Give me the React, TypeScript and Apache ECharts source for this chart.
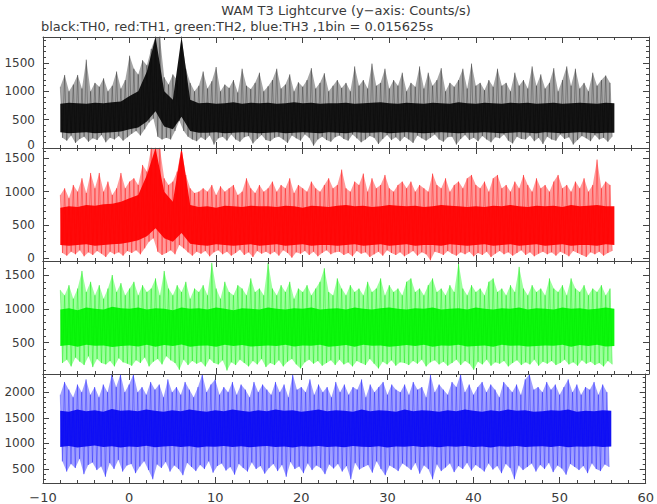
import React, { useEffect, useRef } from 'react';
import * as echarts from 'echarts';

// ---------- texts ----------
const TITLE = 'WAM T3 Lightcurve (y\u2212axis: Counts/s)';
const SUBTITLE = 'black:TH0, red:TH1, green:TH2, blue:TH3 ,1bin = 0.015625s';

// ---------- axes ----------
const X_MIN = -10;
const X_MAX = 60;
const X_INTERVAL = 10;
const Y_RANGES: [number, number][] = [
  [0, 1960],
  [-40, 1654],
  [38, 1707],
  [228, 2355],
];

// ---------- envelope samples ----------
// hi[k] at t = -8 + 0.5k, lo[k] at t = -7.75 + 0.5k
const ENV_START = -8;
const ENV_STEP = 0.5;
// core (dense part of the trace), one value per second from t = -8 to 56
const CORE_START = -8;
const CORE_STEP = 1;

const hiBlack = [
  1080, 1290, 1000, 1120, 1290, 1050, 1560, 1000, 1150, 1080, 1230, 1000, 1100, 1350, 1050, 1200,
  1630, 1400, 1300, 1550, 1460, 1750, 1980, 1980, 1250, 1120, 1300, 1200, 1980, 1400, 1150, 1000,
  1100, 1350, 1050, 1180, 1430, 1000, 1120, 1060, 1200, 980, 1400, 1100, 1040, 1150, 1330, 1000,
  1090, 1200, 1400, 1050, 1120, 1300, 1000, 1160, 1080, 1200, 1410, 1050, 1150, 1320, 1000, 1100,
  1200, 1060, 1150, 1000, 1440, 1100, 1200, 1050, 1490, 1100, 1150, 1400, 1050, 1200, 1100, 1330,
  1000, 1150, 1080, 1440, 1050, 1330, 1100, 1200, 1410, 1000, 1150, 1080, 1200, 1400, 1050, 1490,
  1100, 1150, 1020, 1200, 1080, 1400, 1100, 1150, 1000, 1330, 1100, 1200, 1050, 1440, 1100, 1300,
  1050, 1150, 1410, 1000, 1200, 1440, 1100, 1400, 1050, 1150, 1000, 1330, 1100, 1200, 1280, 1150,
];
const loBlack = [
  180, 130, 220, 90, 160, 200, 110, 170, 140, 230, 100, 180, 150, 210, 130, 190,
  250, 300, 220, 330, 450, 520, 200, 150, 180, 150, 300, 480, 300, 200, 150, 120,
  190, 140, 220, 60, 170, 200, 130, 240, 150, 110, 190, 210, 80, 160, 230, 140,
  120, 180, 200, 150, 90, 220, 170, 130, 240, 180, 40, 150, 200, 140, 110, 190,
  220, 160, 130, 240, 170, 100, 150, 210, 180, 70, 160, 230, 140, 190, 120, 200,
  150, 90, 220, 170, 130, 180, 240, 150, 110, 190, 200, 60, 160, 230, 140, 180,
  120, 210, 150, 100, 190, 170, 240, 130, 80, 200, 160, 150, 220, 120, 180, 70,
  200, 150, 130, 240, 160, 190, 60, 140, 210, 170, 120, 230, 150, 180, 110, 200,
];
const coreLoBlack = [
  280, 260, 270, 280, 260, 270, 280, 290,
  330, 360, 470, 650, 380, 330, 550, 300,
  270, 270, 280, 260, 270, 280, 270, 260,
  270, 280, 260, 270, 280, 270, 260, 280,
  270, 260, 280, 270, 270, 280, 260, 270,
  280, 270, 260, 270, 280, 270, 260, 270,
  270, 280, 270, 260, 270, 280, 270, 260,
  280, 270, 260, 270, 280, 270, 260, 270,
  270,
];
const coreHiBlack = [
  780, 800, 790, 780, 800, 790, 810, 820,
  920, 1000, 1350, 1960, 1000, 850, 1960, 850,
  790, 800, 780, 790, 810, 780, 800, 790,
  800, 780, 790, 810, 790, 800, 780, 790,
  790, 800, 780, 790, 800, 810, 790, 780,
  800, 790, 780, 800, 790, 780, 810, 790,
  780, 800, 790, 780, 800, 790, 800, 780,
  790, 800, 780, 790, 800, 790, 780, 800,
  790,
];

const hiRed = [
  950, 1050, 900, 1100, 1000, 1200, 980, 1280, 1050, 1280, 1000, 1150, 950, 1050, 1280, 1050,
  1150, 1200, 1100, 1400, 1300, 1660, 1660, 1660, 1200, 1100, 1150, 1300, 1660, 1250, 1050, 980,
  1000, 1050, 1000, 1100, 950, 1080, 1000, 1050, 1100, 950, 1000, 1200, 1050, 980, 1100, 1000,
  1050, 1150, 1000, 1100, 1050, 1200, 980, 1100, 1050, 1000, 1150, 1050, 1000, 1100, 1200, 1050,
  1100, 1330, 1050, 1000, 1150, 1100, 1270, 1000, 1200, 1050, 1100, 1250, 1050, 1000, 1100, 1150,
  1050, 1150, 1000, 1100, 1050, 1000, 1270, 1100, 1050, 1200, 1000, 1100, 1150, 1050, 1200, 1250,
  1100, 1050, 1150, 1000, 1200, 1250, 1050, 1100, 1000, 1150, 1050, 1250, 1100, 1000, 1200, 1050,
  1100, 1000, 1150, 1250, 1050, 1100, 1000, 1150, 1050, 1200, 1000, 1100, 1480, 1050, 1150, 1100,
];
const loRed = [
  80, 40, 100, 60, 120, 30, 90, 50, 110, 70, 20, 100, 60, 90, 40, 110,
  80, 120, 60, 150, 250, 300, 100, 50, 80, 120, 60, 200, 150, 90, 40, 100,
  70, 110, 30, 90, 120, 60, 100, 40, 80, 130, 50, 90, 20, 110, 70, 100,
  60, 100, 40, 120, 80, 10, 90, 70, 110, 50, 100, 30, 80, 120, 60, 90,
  100, 50, 80, 30, 110, 70, 90, 20, 60, 100, 40, 120, 80, 50, 90, 30,
  70, 110, 40, 90, 60, -30, 100, 80, 50, 110, 70, 40, 90, 60, 100, 30,
  80, 50, 100, 20, 70, 110, 60, 90, 40, 80, 120, 50, 90, 30, 70, 100,
  60, 90, 40, 100, 70, 30, 110, 80, 50, 20, 90, 60, 100, 40, 80, 110,
];
const coreLoRed = [
  200, 190, 200, 210, 190, 200, 210, 220,
  240, 270, 330, 450, 300, 250, 380, 220,
  200, 190, 210, 200, 190, 200, 210, 190,
  200, 210, 190, 200, 210, 190, 200, 200,
  190, 200, 210, 190, 200, 210, 190, 200,
  210, 190, 200, 200, 190, 210, 200, 190,
  200, 210, 190, 200, 210, 190, 200, 210,
  190, 200, 210, 190, 200, 200, 190, 210,
  200,
];
const coreHiRed = [
  760, 780, 770, 800, 790, 810, 820, 850,
  900, 950, 1250, 1660, 1000, 850, 1660, 800,
  770, 780, 760, 790, 780, 770, 790, 780,
  780, 770, 790, 780, 760, 790, 780, 770,
  790, 800, 780, 790, 770, 780, 800, 790,
  780, 790, 770, 780, 800, 790, 780, 770,
  780, 770, 790, 780, 800, 780, 770, 790,
  780, 790, 770, 800, 780, 790, 800, 780,
  780,
];

const hiGreen = [
  1280, 1200, 1350, 1150, 1300, 1560, 1250, 1400, 1200, 1350, 1150, 1300, 1500, 1250, 1380, 1200,
  1300, 1400, 1200, 1350, 1250, 1300, 1450, 1200, 1560, 1300, 1200, 1350, 1250, 1400, 1150, 1300,
  1250, 1350, 1200, 1680, 1300, 1150, 1400, 1250, 1200, 1350, 1300, 1200, 1450, 1250, 1300, 1200,
  1680, 1300, 1200, 1350, 1250, 1400, 1150, 1300, 1250, 1350, 1200, 1300, 1400, 1600, 1250, 1200,
  1450, 1300, 1200, 1350, 1250, 1300, 1200, 1400, 1250, 1300, 1450, 1200, 1350, 1250, 1300, 1200,
  1400, 1450, 1250, 1300, 1200, 1350, 1450, 1250, 1300, 1200, 1350, 1250, 1680, 1300, 1200, 1350,
  1250, 1300, 1200, 1400, 1450, 1250, 1300, 1200, 1350, 1250, 1620, 1300, 1200, 1350, 1250, 1300,
  1200, 1450, 1300, 1250, 1350, 1200, 1450, 1300, 1250, 1350, 1200, 1300, 1250, 1350, 1200, 1300,
];
const loGreen = [
  200, 250, 150, 280, 220, 170, 300, 140, 260, 200, 180, 230, 150, 270, 210, 190,
  160, 240, 200, 280, 150, 220, 260, 180, 300, 240, 200, 100, 250, 170, 230, 190,
  220, 150, 260, 200, 180, 240, 90, 210, 170, 250, 200, 150, 230, 180, 260, 140,
  200, 170, 240, 150, 220, 260, 180, 120, 210, 250, 190, 230, 160, 200, 240, 170,
  250, 180, 210, 150, 230, 200, 170, 260, 190, 120, 220, 180, 240, 160, 210, 200,
  170, 230, 190, 250, 150, 210, 240, 180, 220, 160, 200, 250, 170, 230, 190, 100,
  220, 180, 250, 160, 210, 190, 230, 150, 200, 240, 170, 210, 180, 250, 160, 220,
  190, 230, 170, 200, 250, 180, 210, 160, 240, 190, 220, 170, 200, 150, 230, 180,
];
const coreLoGreen = [
  450, 465, 440, 470, 455, 460, 435, 450,
  460, 445, 470, 440, 465, 450, 475, 440,
  455, 460, 440, 470, 450, 465, 445, 450,
  460, 450, 470, 445, 460, 455, 470, 440,
  450, 465, 440, 470, 455, 460, 440, 450,
  465, 450, 470, 440, 460, 455, 470, 445,
  450, 460, 440, 470, 455, 460, 445, 450,
  460, 455, 470, 440, 465, 450, 470, 445,
  450,
];
const coreHiGreen = [
  990, 1010, 980, 1020, 1000, 990, 1030, 1010,
  1000, 1020, 990, 1010, 1000, 980, 1020, 1000,
  1010, 990, 1020, 1000, 980, 1010, 1000, 990,
  1020, 1000, 990, 1010, 1000, 1020, 990, 1000,
  1010, 990, 1020, 1000, 990, 1010, 1020, 1000,
  990, 1010, 1000, 1020, 990, 1000, 1010, 990,
  1020, 1000, 990, 1010, 1000, 1020, 990, 1010,
  1000, 990, 1020, 1000, 1010, 990, 1000, 1020,
  1000,
];

const hiBlue = [
  1950, 2200, 2050, 1900, 2150, 2000, 2250, 1950, 2100, 1900, 2150, 2000, 2350, 2100, 2350, 2000,
  2150, 2350, 2000, 2100, 1950, 2200, 2050, 2150, 1900, 2250, 2000, 2100, 1950, 2200, 2050, 1900,
  2100, 2350, 2000, 2150, 2250, 1950, 2100, 2000, 2200, 1950, 2150, 2050, 1900, 2200, 2000, 2150,
  2050, 1950, 2200, 2000, 2150, 1900, 2350, 2050, 2100, 2000, 2250, 1950, 2150, 2000, 2100, 1900,
  2200, 2000, 2150, 1950, 2100, 2050, 2250, 1900, 2150, 2000, 2100, 2200, 1950, 2150, 2050, 2000,
  2150, 1950, 2200, 2050, 2100, 1900, 2350, 2000, 2150, 2050, 1950, 2200, 2100, 2350, 2000, 2150,
  1950, 2100, 2200, 2000, 2150, 2050, 1900, 2200, 2100, 2000, 2150, 1950, 2250, 2350, 2050, 2100,
  2000, 2200, 2050, 2150, 1950, 2100, 2250, 2000, 2150, 1950, 2100, 2050, 2200, 1950, 2150, 2000,
];
const loBlue = [
  650, 450, 600, 520, 700, 400, 580, 630, 480, 550, 350, 620, 500, 680, 450, 570,
  600, 420, 550, 650, 480, 300, 590, 520, 640, 450, 570, 500, 380, 620, 540, 460,
  580, 500, 650, 430, 560, 610, 470, 540, 390, 600, 520, 450, 630, 500, 560, 410,
  520, 600, 460, 580, 350, 640, 500, 550, 420, 610, 480, 570, 520, 400, 590, 510,
  600, 450, 560, 300, 620, 490, 540, 580, 430, 650, 500, 380, 570, 520, 460, 610,
  550, 480, 620, 410, 570, 500, 300, 590, 460, 530, 610, 440, 560, 500, 620, 470,
  580, 520, 450, 610, 490, 560, 420, 600, 520, 300, 570, 480, 540, 610, 450, 580,
  500, 620, 440, 570, 510, 390, 600, 540, 480, 560, 420, 610, 500, 460, 590, 540,
];
const coreLoBlue = [
  930, 950, 920, 940, 960, 930, 945, 920,
  940, 930, 955, 925, 940, 950, 930, 945,
  920, 940, 935, 950, 930, 945, 925, 940,
  950, 930, 940, 920, 945, 935, 950, 930,
  940, 925, 950, 935, 930, 945, 920, 940,
  935, 950, 930, 940, 925, 945, 935, 950,
  930, 940, 920, 945, 935, 950, 930, 940,
  945, 930, 950, 925, 940, 935, 945, 930,
  940,
];
const coreHiBlue = [
  1640, 1620, 1660, 1630, 1650, 1620, 1670, 1640,
  1650, 1630, 1660, 1640, 1620, 1650, 1630, 1660,
  1640, 1620, 1650, 1630, 1660, 1640, 1620, 1650,
  1630, 1660, 1640, 1650, 1620, 1640, 1660, 1630,
  1650, 1640, 1620, 1660, 1630, 1650, 1640, 1620,
  1660, 1630, 1650, 1640, 1620, 1650, 1630, 1660,
  1640, 1620, 1650, 1630, 1660, 1640, 1650, 1620,
  1630, 1650, 1640, 1660, 1620, 1640, 1630, 1650,
  1640,
];

type Panel = {
  hi: number[]; lo: number[]; coreLo: number[]; coreHi: number[];
  core: string; light: string; line: string;
};
const PANELS: Panel[] = [
  { hi: hiBlack, lo: loBlack, coreLo: coreLoBlack, coreHi: coreHiBlack,
    core: '#141414', light: '#a6a6a6', line: 'rgba(0,0,0,0.35)' },
  { hi: hiRed, lo: loRed, coreLo: coreLoRed, coreHi: coreHiRed,
    core: '#ff0a0a', light: '#ff9a9a', line: 'rgba(255,0,0,0.45)' },
  { hi: hiGreen, lo: loGreen, coreLo: coreLoGreen, coreHi: coreHiGreen,
    core: '#0cf80c', light: '#9cff9c', line: 'rgba(0,230,0,0.45)' },
  { hi: hiBlue, lo: loBlue, coreLo: coreLoBlue, coreHi: coreHiBlue,
    core: '#1414f2', light: '#a0a0ff', line: 'rgba(0,0,255,0.4)' },
];

// panel layout (pixels)
const GRID_LEFT = 43;
const GRID_WIDTH = 606;
const GRID_TOPS = [37, 148, 261, 374];
const GRID_HEIGHTS = [111, 113, 113, 112];

function envHiPts(hi: number[]): number[][] {
  return hi.map((v, k) => [ENV_START + k * ENV_STEP, v]);
}
function envLoPts(lo: number[]): number[][] {
  return lo.map((v, k) => [ENV_START + k * ENV_STEP + ENV_STEP / 2, v]);
}
function corePts(v: number[]): number[][] {
  return v.map((y, k) => [CORE_START + k * CORE_STEP, y]);
}
function zigzag(hi: number[], lo: number[]): number[][] {
  const pts: number[][] = [];
  for (let k = 0; k < hi.length; k++) {
    pts.push([ENV_START + k * ENV_STEP, hi[k]]);
    if (k < lo.length) pts.push([ENV_START + k * ENV_STEP + ENV_STEP / 2, lo[k]]);
  }
  return pts;
}

const LINE_COL = '#444';
const FONT = 'DejaVu Sans';
const TEXT_COL = '#3a3a3a';

function bandSeries(i: number, upper: number[][], lower: number[][], fill: string, z: number) {
  return {
    type: 'custom',
    xAxisIndex: 2 * i,
    yAxisIndex: 2 * i,
    data: upper,
    encode: { x: 0, y: 1 },
    silent: true,
    z,
    renderItem: (params: any, api: any) => {
      if (params.dataIndex !== 0) return null;
      const pts: number[][] = [];
      upper.forEach((p) => pts.push(api.coord(p)));
      for (let j = lower.length - 1; j >= 0; j--) pts.push(api.coord(lower[j]));
      const cs = params.coordSys;
      const clipped = echarts.graphic.clipPointsByRect(pts, {
        x: cs.x, y: cs.y, width: cs.width, height: cs.height,
      } as any);
      return {
        type: 'polygon',
        shape: { points: clipped },
        style: { fill, stroke: null },
        silent: true,
      };
    },
  };
}

export default function App() {
  const ref = useRef<HTMLDivElement>(null);
  useEffect(() => {
    if (!ref.current) return;
    const chart = echarts.init(ref.current, undefined, { renderer: 'svg' });

    const grid = GRID_TOPS.map((top, i) => ({
      left: GRID_LEFT, width: GRID_WIDTH, top, height: GRID_HEIGHTS[i], containLabel: false,
    }));

    const commonAxis = {
      axisLine: { show: true, onZero: false, lineStyle: { color: LINE_COL, width: 1 } },
      axisTick: { show: true, inside: true, length: 6, lineStyle: { color: LINE_COL, width: 1 } },
      minorTick: { show: true, splitNumber: 5, length: 3, lineStyle: { color: LINE_COL, width: 1 } },
      splitLine: { show: false },
      minorSplitLine: { show: false },
      z: 10,
    };

    const xAxis: any[] = [];
    const yAxis: any[] = [];
    PANELS.forEach((_, i) => {
      xAxis.push({
        ...commonAxis,
        type: 'value', gridIndex: i, position: 'bottom',
        min: X_MIN, max: X_MAX, interval: X_INTERVAL,
        axisLabel: {
          show: i === PANELS.length - 1, margin: 8, color: TEXT_COL,
          fontFamily: FONT, fontSize: 13,
          formatter: (v: number) => String(v).replace('-', '\u2212'),
        },
      });
      xAxis.push({
        ...commonAxis,
        type: 'value', gridIndex: i, position: 'top',
        min: X_MIN, max: X_MAX, interval: X_INTERVAL,
        axisLabel: { show: false },
      });
      const [ymin, ymax] = Y_RANGES[i];
      const isTop = i === 0;
      yAxis.push({
        ...commonAxis,
        type: 'value', gridIndex: i, position: 'left',
        min: ymin, max: ymax, splitNumber: 4,
        axisLabel: {
          show: true, margin: 8, color: TEXT_COL, fontFamily: FONT, fontSize: 12, lineHeight: 10,
          formatter: (v: number) => {
            if (Math.abs(v % 500) > 1e-6) return '';
            // the bottom "0" of the top panel sits a little higher in the reference
            if (isTop && v === 0) return '{lift|0}';
            return String(v);
          },
          rich: {
            lift: {
              fontFamily: FONT, fontSize: 12, lineHeight: 10, color: TEXT_COL,
              padding: [0, 0, 7, 0],
            },
          },
        },
      });
      yAxis.push({
        ...commonAxis,
        type: 'value', gridIndex: i, position: 'right',
        min: ymin, max: ymax, splitNumber: 4,
        axisLabel: { show: false },
      });
    });

    const series: any[] = [];
    PANELS.forEach((p, i) => {
      series.push(bandSeries(i, envHiPts(p.hi), envLoPts(p.lo), p.light, 2));
      series.push(bandSeries(i, corePts(p.coreHi), corePts(p.coreLo), p.core, 3));
      series.push({
        type: 'line', xAxisIndex: 2 * i, yAxisIndex: 2 * i,
        symbol: 'none', showSymbol: false, silent: true, clip: true,
        data: zigzag(p.hi, p.lo),
        lineStyle: { width: 0.8, color: p.line },
        z: 4,
      });
    });

    chart.setOption({
      animation: false,
      backgroundColor: '#ffffff',
      grid,
      xAxis,
      yAxis,
      series,
      graphic: [
        {
          type: 'text', x: 346, y: 10, silent: true,
          style: {
            text: TITLE, fill: TEXT_COL, fontFamily: FONT, fontSize: 13,
            align: 'center', verticalAlign: 'middle', textAlign: 'center', textVerticalAlign: 'middle',
          },
        },
        {
          type: 'text', x: 41, y: 26, silent: true,
          style: {
            text: SUBTITLE, fill: TEXT_COL, fontFamily: FONT, fontSize: 13,
            align: 'left', verticalAlign: 'middle', textAlign: 'left', textVerticalAlign: 'middle',
          },
        },
      ],
    });
    return () => chart.dispose();
  }, []);

  return (
    <div
      ref={ref}
      style={{ position: 'absolute', left: 0, top: 0, width: 657, height: 504, background: '#fff' }}
    />
  );
}
